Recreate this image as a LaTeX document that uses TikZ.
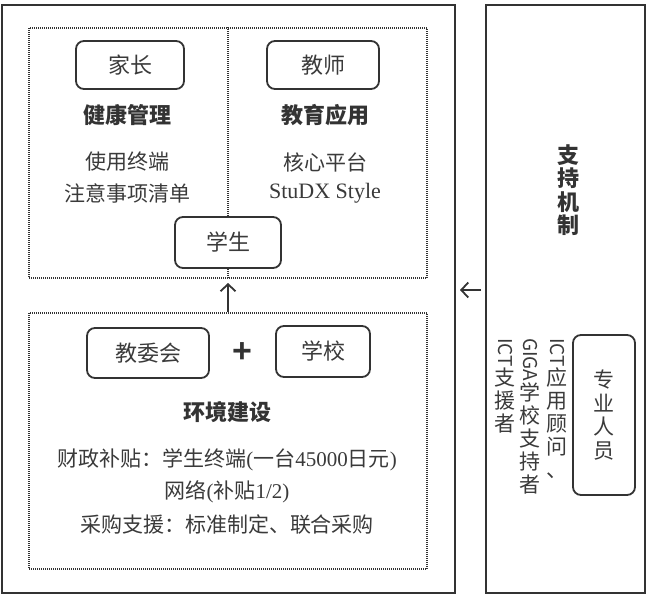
\documentclass[tikz,border=0pt]{standalone}
\usepackage{fontspec}
\setmainfont{Liberation Serif}
\newfontfamily\cjk{Noto Sans CJK SC}
\newfontfamily\plusfont{Liberation Sans}
\usetikzlibrary{arrows.meta}
\definecolor{ink}{HTML}{333333}
\definecolor{txt}{HTML}{3A3A3A}
\tikzset{
  frame/.style={draw=ink, line width=1.8pt},
  dotbox/.style={draw=ink, line width=1.8pt, dash pattern=on 1pt off 1pt},
  rolebox/.style={draw=ink, line width=1.8pt, rounded corners=8pt, font=\cjk\fontsize{22}{24}\selectfont, text=txt},
  head/.style={font=\cjk\bfseries\fontsize{22}{24}\selectfont, text=ink, inner sep=0pt},
  body/.style={font=\cjk\fontsize{21}{24}\selectfont, text=txt, inner sep=0pt},
  mixed/.style={font=\fontsize{21}{24}\selectfont, text=txt, inner sep=0pt},
  vcol/.style={anchor=north, align=center, inner sep=0pt, text=txt, font=\cjk\fontsize{21}{23}\selectfont},
  arr/.style={draw=ink, line width=1.8pt, -{Straight Barb[length=7pt,width=15pt,line width=1.8pt]}}
}
\begin{document}
\begin{tikzpicture}[x=1pt,y=-1pt]
\useasboundingbox (0,0) rectangle (648,597);
% outer frames
\node[frame, minimum width=453pt, minimum height=588pt, inner sep=0pt] (left) at (228.5,299) {};
\node[frame, minimum width=159pt, minimum height=588pt, inner sep=0pt] (right) at (565.5,299) {};
% dotted panels
\node[dotbox, minimum width=398pt, minimum height=250pt, inner sep=0pt] (top) at (228,153) {};
\node[dotbox, minimum width=398pt, minimum height=256pt, inner sep=0pt] (bot) at (228,441) {};
% top panel
\node[rolebox, minimum width=108pt, minimum height=48pt] (parent) at (130,65) {家长};
\node[rolebox, minimum width=112pt, minimum height=48pt] (teacher) at (323,65) {教师};
\node[head] (health) at (127,115) {健康管理};
\node[head] (edu) at (325,115) {教育应用};
\node[body] (use) at (127,162) {使用终端};
\node[body] (notes) at (127,193) {注意事项清单};
\node[body] (core) at (325,162) {核心平台};
\node[mixed, font=\fontsize{22}{24}\selectfont] (studx) at (325,193) {StuDX Style};
\node[rolebox, fill=white, minimum width=106pt, minimum height=51pt] (student) at (228,242.5) {学生};
\draw[dotbox, line width=2.2pt] (top.north) -- (student.north);
\draw[dotbox, line width=2.2pt] (student.south) -- (top.south);
% bottom panel
\node[rolebox, minimum width=122pt, minimum height=50pt] (board) at (148,353) {教委会};
\node[rolebox, minimum width=94pt, minimum height=51pt] (school) at (323,351.5) {学校};
\node[font=\plusfont\bfseries\fontsize{34}{34}\selectfont, text=ink, inner sep=0pt] (plus) at (242,353) {+};
\node[head] (env) at (227,412) {环境建设};
\node[mixed] (fin) at (227,460) {{\cjk 财政补贴：学生终端}({\cjk 一台}45000{\cjk 日元})};
\node[mixed] (net) at (227,492) {{\cjk 网络}({\cjk 补贴}1/2)};
\node[body] (buy) at (227,525) {采购支援：标准制定、联合采购};
% arrows
\coordinate (uptip) at (228,283);
\draw[arr] (bot.north) -- (uptip);
\coordinate (rtail) at (481,290);
\coordinate (rtip) at (460,290);
\draw[arr] (rtail) -- (rtip);
% right panel
\node[vcol, anchor=center, font=\cjk\bfseries\fontsize{22}{23.5}\selectfont, text=ink] (support) at (568,190) {支\\持\\机\\制};
\node[rolebox, minimum width=62pt, minimum height=160pt, align=center, font=\cjk\fontsize{21}{23.5}\selectfont] (expert) at (604,415) {专\\业\\人\\员};
\node[vcol] (c1) at (557,338) {\rotatebox[origin=c]{-90}{\fontsize{19}{20}\selectfont ICT}\\应\\用\\顾\\问\\、};
\node[vcol] (c2) at (530,338) {\rotatebox[origin=c]{-90}{\fontsize{19}{20}\selectfont GIGA}\\学\\校\\支\\持\\者};
\node[vcol] (c3) at (505,338) {\rotatebox[origin=c]{-90}{\fontsize{19}{20}\selectfont ICT}\\支\\援\\者};
\end{tikzpicture}
\end{document}
